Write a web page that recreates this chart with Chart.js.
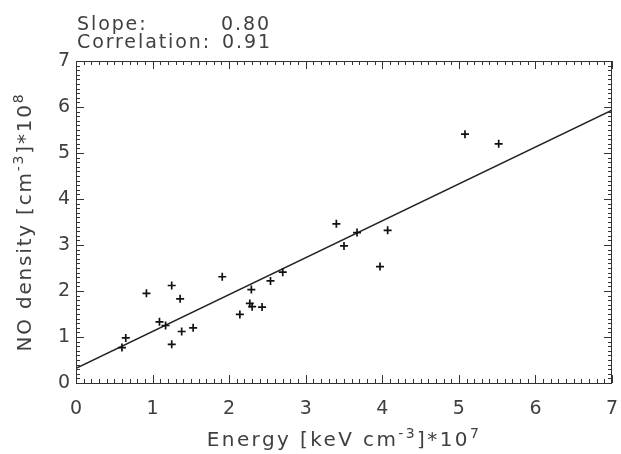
<!DOCTYPE html>
<html>
<head>
<meta charset="utf-8">
<script src="https://cdn.jsdelivr.net/npm/chart.js@4"></script>
<style>
  html, body { margin: 0; padding: 0; background: #fff; }
  #c { display: block; }
</style>
</head>
<body>
<canvas id="c" width="621" height="454"></canvas>
<script>
// ---- data ----
const energy     = [0.60, 0.65, 0.92, 1.09, 1.17, 1.25, 1.36, 1.25, 1.38, 1.53, 1.91, 2.14, 2.29, 2.27, 2.30, 2.43, 2.54, 2.70, 3.40, 3.67, 3.50, 4.07, 3.97, 5.08, 5.52];
const noDensity  = [0.77, 0.98, 1.95, 1.33, 1.25, 2.12, 1.83, 0.84, 1.12, 1.20, 2.31, 1.49, 2.03, 1.73, 1.66, 1.65, 2.22, 2.41, 3.46, 3.27, 2.98, 3.32, 2.53, 5.41, 5.20];
const fitX = [0, 7];
const fitY = [0.32, 5.93];
const xTicks = [0, 1, 2, 3, 4, 5, 6, 7];
const yTicks = [0, 1, 2, 3, 4, 5, 6, 7];
const statLabels = ['Slope:', 'Correlation:'];
const statValues = ['0.80', '0.91'];

const TEXT = '#404040';
const FONT = '"DejaVu Sans", sans-serif';

const points = energy.map((x, i) => ({ x, y: noDensity[i] }));
const fitLine = fitX.map((x, i) => ({ x, y: fitY[i] }));

function measureParts(ctx, parts, size, letterSp) {
  return parts.map(p => {
    ctx.font = (p.sup ? Math.round(size * 0.7) : size) + 'px ' + FONT;
    ctx.letterSpacing = letterSp + 'px';
    return ctx.measureText(p.t).width;
  });
}
function richText(ctx, parts, cx, baseY, size, letterSp) {
  const widths = measureParts(ctx, parts, size, letterSp);
  const total = widths.reduce((a, b) => a + b, 0);
  let x = cx - total / 2;
  ctx.textBaseline = 'alphabetic';
  ctx.textAlign = 'left';
  parts.forEach((p, i) => {
    ctx.font = (p.sup ? Math.round(size * 0.7) : size) + 'px ' + FONT;
    ctx.letterSpacing = letterSp + 'px';
    ctx.fillText(p.t, x, baseY - (p.sup ? size * 0.42 : 0));
    x += widths[i];
  });
}

const framePlugin = {
  id: 'frame',
  afterDatasetsDraw(chart) {
    const { ctx, chartArea: a, scales } = chart;
    const xs = scales.x, ys = scales.y;
    ctx.save();
    ctx.strokeStyle = '#333';
    ctx.lineWidth = 1;
    ctx.strokeRect(Math.round(a.left) + 0.5, Math.round(a.top) + 0.5, Math.round(a.right - a.left) - 1, Math.round(a.bottom - a.top));
    ctx.beginPath();
    for (let i = 0; i <= 70; i++) {
      const v = i / 10;
      const len = (i % 10 === 0) ? 8 : 4;
      const px = Math.round(xs.getPixelForValue(v)) + 0.5;
      ctx.moveTo(px, a.bottom); ctx.lineTo(px, a.bottom - len);
      ctx.moveTo(px, a.top); ctx.lineTo(px, a.top + len);
      const py = Math.round(ys.getPixelForValue(v)) + 0.5;
      ctx.moveTo(a.left, py); ctx.lineTo(a.left + len, py);
      ctx.moveTo(a.right, py); ctx.lineTo(a.right - len, py);
    }
    ctx.stroke();

    ctx.fillStyle = TEXT;
    // stats text
    ctx.textAlign = 'left';
    ctx.textBaseline = 'alphabetic';
    ctx.font = '19px ' + FONT;
    ctx.letterSpacing = '1.9px';
    ctx.fillText(statLabels[0], 77, 30);
    ctx.fillText(statValues[0], 221, 30);
    ctx.fillText(statLabels[1], 77, 48);
    ctx.fillText(statValues[1], 222, 48);

    // x title
    const cx = (a.left + a.right) / 2;
    richText(ctx, [{ t: 'Energy [keV cm' }, { t: '-3', sup: true }, { t: ']*10' }, { t: '7', sup: true }], cx, 446, 20, 2.4);

    // y title
    ctx.save();
    ctx.translate(31, (a.top + a.bottom) / 2);
    ctx.rotate(-Math.PI / 2);
    richText(ctx, [{ t: 'NO density [cm' }, { t: '-3', sup: true }, { t: ']*10' }, { t: '8', sup: true }], 0, 0, 20, 1.8);
    ctx.restore();
    ctx.restore();
  }
};

new Chart(document.getElementById('c'), {
  type: 'scatter',
  data: {
    datasets: [
      {
        label: 'data',
        data: points,
        pointStyle: 'cross',
        pointRadius: 4,
        pointBorderWidth: 1.7,
        borderColor: '#111',
        backgroundColor: '#111',
        clip: false
      },
      {
        type: 'line',
        label: 'fit',
        data: fitLine,
        showLine: true,
        pointRadius: 0,
        borderColor: '#222',
        borderWidth: 1.6,
        fill: false
      }
    ]
  },
  options: {
    responsive: false,
    animation: false,
    devicePixelRatio: 1,
    layout: { padding: { top: 61, right: 9, left: 0, bottom: 0 } },
    plugins: { legend: { display: false }, tooltip: { enabled: false } },
    scales: {
      x: {
        type: 'linear',
        min: 0, max: 7,
        afterBuildTicks: s => { s.ticks = xTicks.map(v => ({ value: v })); },
        ticks: { color: TEXT, font: { family: FONT, size: 19 }, padding: 15, maxRotation: 0 },
        grid: { display: false, drawTicks: false },
        border: { display: false },
        afterFit: s => { s.height = 71; s.paddingLeft = 0; s.paddingRight = 0; }
      },
      y: {
        type: 'linear',
        min: 0, max: 7,
        afterBuildTicks: s => { s.ticks = yTicks.map(v => ({ value: v })); },
        ticks: { color: TEXT, font: { family: FONT, size: 19 }, padding: 6 },
        grid: { display: false, drawTicks: false },
        border: { display: false },
        afterFit: s => { s.width = 76; s.paddingTop = 0; s.paddingBottom = 0; }
      }
    }
  },
  plugins: [framePlugin]
});
</script>
</body>
</html>
